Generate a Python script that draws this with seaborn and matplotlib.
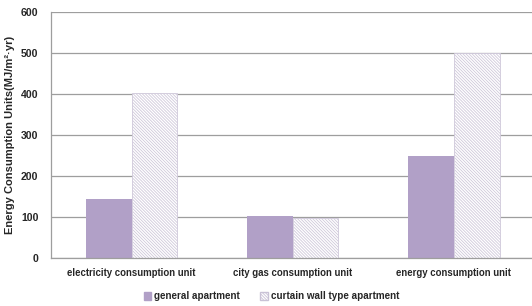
import matplotlib
matplotlib.use("Agg")
import matplotlib.pyplot as plt
import seaborn as sns
import pandas as pd
from matplotlib.patches import Patch

categories = ["electricity consumption unit", "city gas consumption unit", "energy consumption unit"]
series = ["general apartment", "curtain wall type apartment"]
general = [145, 103, 248]
curtain = [402, 97, 500]

df = pd.DataFrame({
    "category": categories * 2,
    "type": [series[0]] * 3 + [series[1]] * 3,
    "value": general + curtain,
})

sns.set_style("white")
plt.rcParams["font.family"] = ["Liberation Sans", "DejaVu Sans"]
plt.rcParams["hatch.color"] = "#B7AEC6"
plt.rcParams["hatch.linewidth"] = 0.6

fig = plt.figure(figsize=(5.32, 3.06), dpi=100)
ax = fig.add_axes([0.096, 0.157, 0.908, 0.804])

purple = "#B1A0C7"
hatch = "\\" * 11
sns.barplot(data=df, x="category", y="value", hue="type", hue_order=series,
            palette=[purple, "white"], width=0.57, saturation=1, ax=ax,
            legend=False)

n = len(categories)
for i, p in enumerate(ax.patches[:2 * n]):
    if i >= n:
        p.set_hatch(hatch)
        p.set_edgecolor("#CFC8DA")
        p.set_linewidth(0.6)
    else:
        p.set_edgecolor(purple)
        p.set_linewidth(0)

ax.set_ylim(0, 600)
ax.set_xlim(-0.5, n - 0.5)
ax.set_yticks(range(0, 601, 100))
ax.yaxis.grid(True, color="#9E9E9E", linewidth=0.9)
ax.set_axisbelow(True)

for s in ["top", "right"]:
    ax.spines[s].set_visible(False)
for s in ["left", "bottom"]:
    ax.spines[s].set_color("#9E9E9E")
    ax.spines[s].set_linewidth(0.9)

fs = 6.9
ax.set_xticks(range(n))
ax.set_xticklabels(categories, fontsize=fs, fontweight="bold")
ax.tick_params(axis="x", length=0, pad=7)
ax.set_xticks([0.5, 1.5], minor=True)
ax.tick_params(axis="x", which="minor", length=4, color="#9E9E9E", width=0.9)
ax.tick_params(axis="y", length=4, color="#9E9E9E", width=0.9, labelsize=7.6, pad=5)
for t in ax.get_yticklabels():
    t.set_fontweight("bold")

ax.set_xlabel("")
ax.set_ylabel("Energy Consumption Units(MJ/m²·yr)", fontsize=8.0, fontweight="bold", labelpad=4)

handles = [Patch(facecolor=purple, edgecolor=purple),
           Patch(facecolor="white", edgecolor="#C9C2D6", hatch=hatch)]
fig.legend(handles, series, loc="center", bbox_to_anchor=(0.51, 0.032), ncol=2,
           frameon=False, handlelength=0.8, handleheight=0.8, handletextpad=0.3,
           columnspacing=2.0, prop={"size": 7.1, "weight": "bold"})

fig.savefig("out.png", dpi=100)
